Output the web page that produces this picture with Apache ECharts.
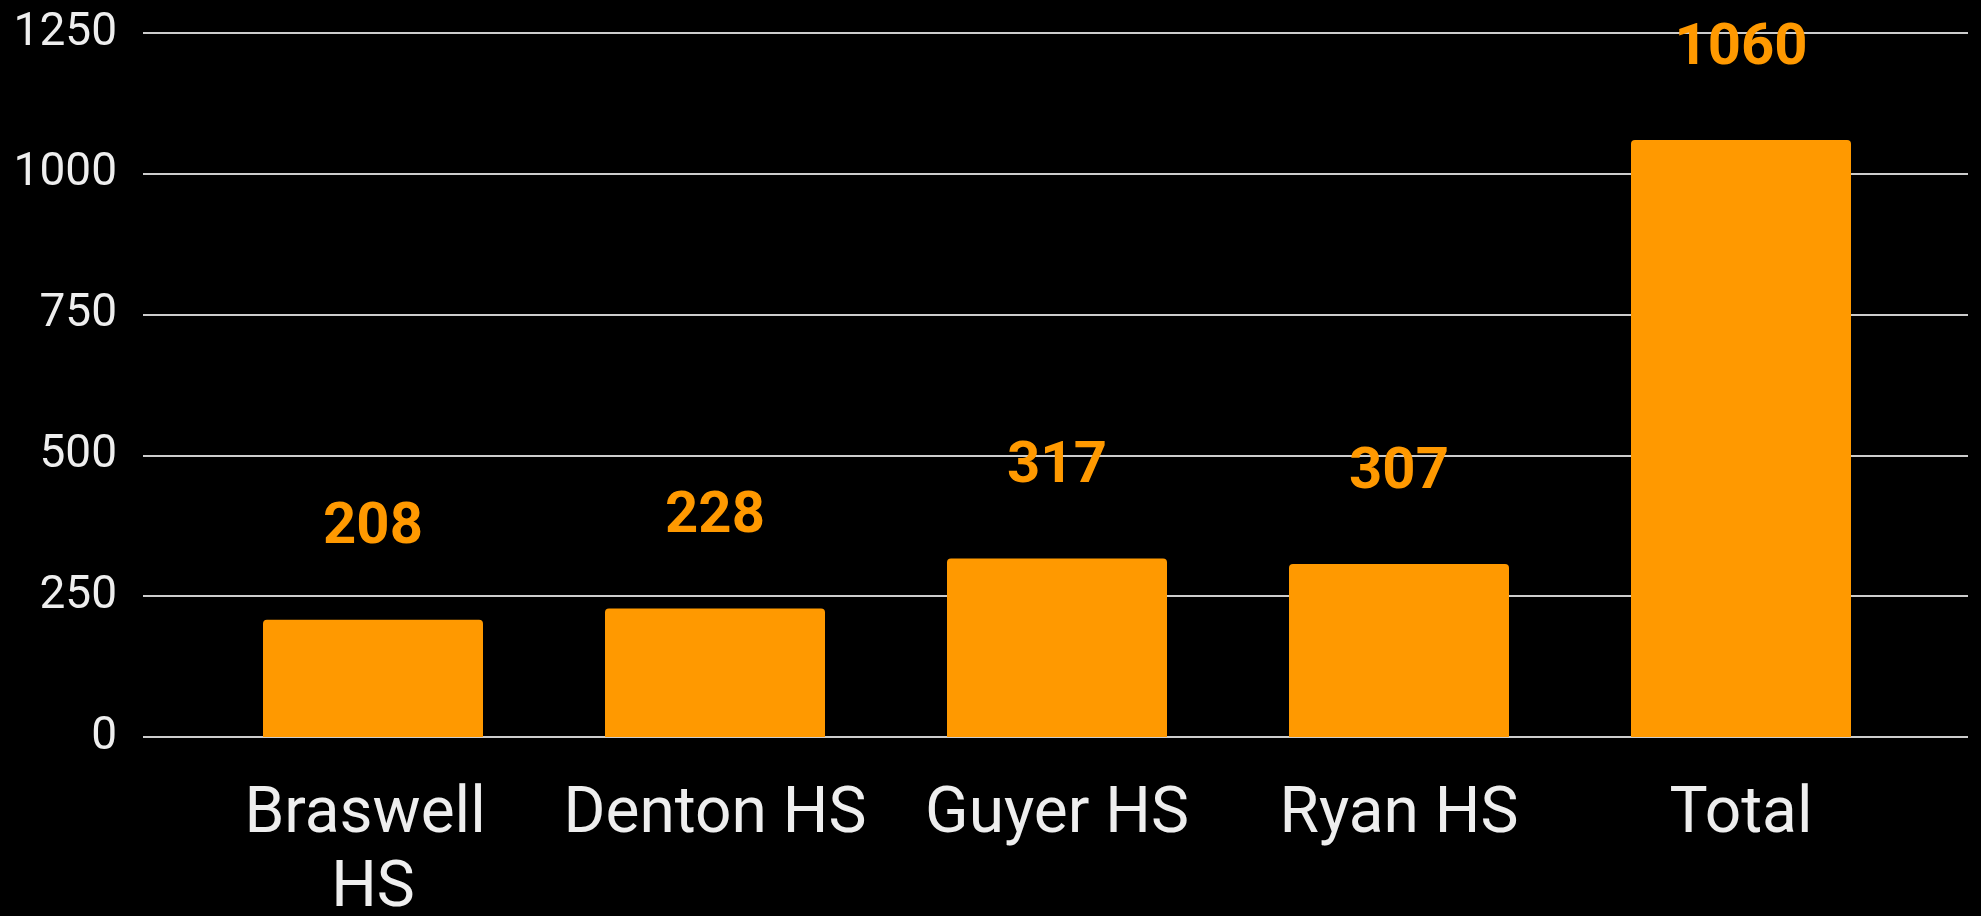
<!DOCTYPE html>
<html>
<head>
<meta charset="utf-8">
<script src="https://cdn.jsdelivr.net/npm/echarts@6/dist/echarts.min.js"></script>
<style>
  html, body { margin: 0; padding: 0; background: #000; }
  #chart { width: 1981px; height: 916px; }
</style>
</head>
<body>
<div id="chart"></div>
<script>
const categories = ["Braswell HS", "Denton HS", "Guyer HS", "Ryan HS", "Total"];
const values = [208, 228, 317, 307, 1060];
const yTicks = [0, 250, 500, 750, 1000, 1250];

const chart = echarts.init(document.getElementById('chart'), null, { renderer: 'canvas' });
const yMin = yTicks[0], yMax = yTicks[yTicks.length - 1], yStep = yTicks[1] - yTicks[0];

chart.setOption({
  backgroundColor: '#000000',
  animation: false,
  textStyle: { fontFamily: 'Roboto' },
  grid: [
    { left: 143, right: 13, top: 33, bottom: 179, outerBoundsMode: 'none', containLabel: false },
    { left: 202, right: 69, top: 33, bottom: 179, outerBoundsMode: 'none', containLabel: false }
  ],
  xAxis: [
    { type: 'category', gridIndex: 0, data: categories, show: false },
    {
      type: 'category', gridIndex: 1, data: categories,
      axisLine: { show: false }, axisTick: { show: false },
      axisLabel: {
        color: '#eeeeee', fontFamily: 'Roboto', fontSize: 64, lineHeight: 74,
        margin: 42, width: 320, overflow: 'break', interval: 0
      }
    }
  ],
  yAxis: [
    {
      type: 'value', gridIndex: 0, min: yMin, max: yMax, interval: yStep,
      axisLine: { show: false }, axisTick: { show: false },
      axisLabel: {
        color: '#eeeeee', fontFamily: 'Roboto', fontSize: 46, margin: 26,
        formatter: function (v) { return String(v); }
      },
      splitLine: { lineStyle: { color: '#cccccc', width: 2 } }
    },
    {
      type: 'value', gridIndex: 1, min: yMin, max: yMax, interval: yStep, show: false,
      splitLine: { show: false }
    }
  ],
  series: [{
    type: 'bar', xAxisIndex: 1, yAxisIndex: 1,
    data: values, barWidth: 220,
    itemStyle: { color: '#ff9900', borderRadius: [4, 4, 0, 0] },
    label: {
      show: true, position: 'top', distance: 62,
      color: '#ff9900', fontFamily: 'Roboto', fontWeight: 'bold', fontSize: 58
    }
  }]
});
</script>
</body>
</html>
